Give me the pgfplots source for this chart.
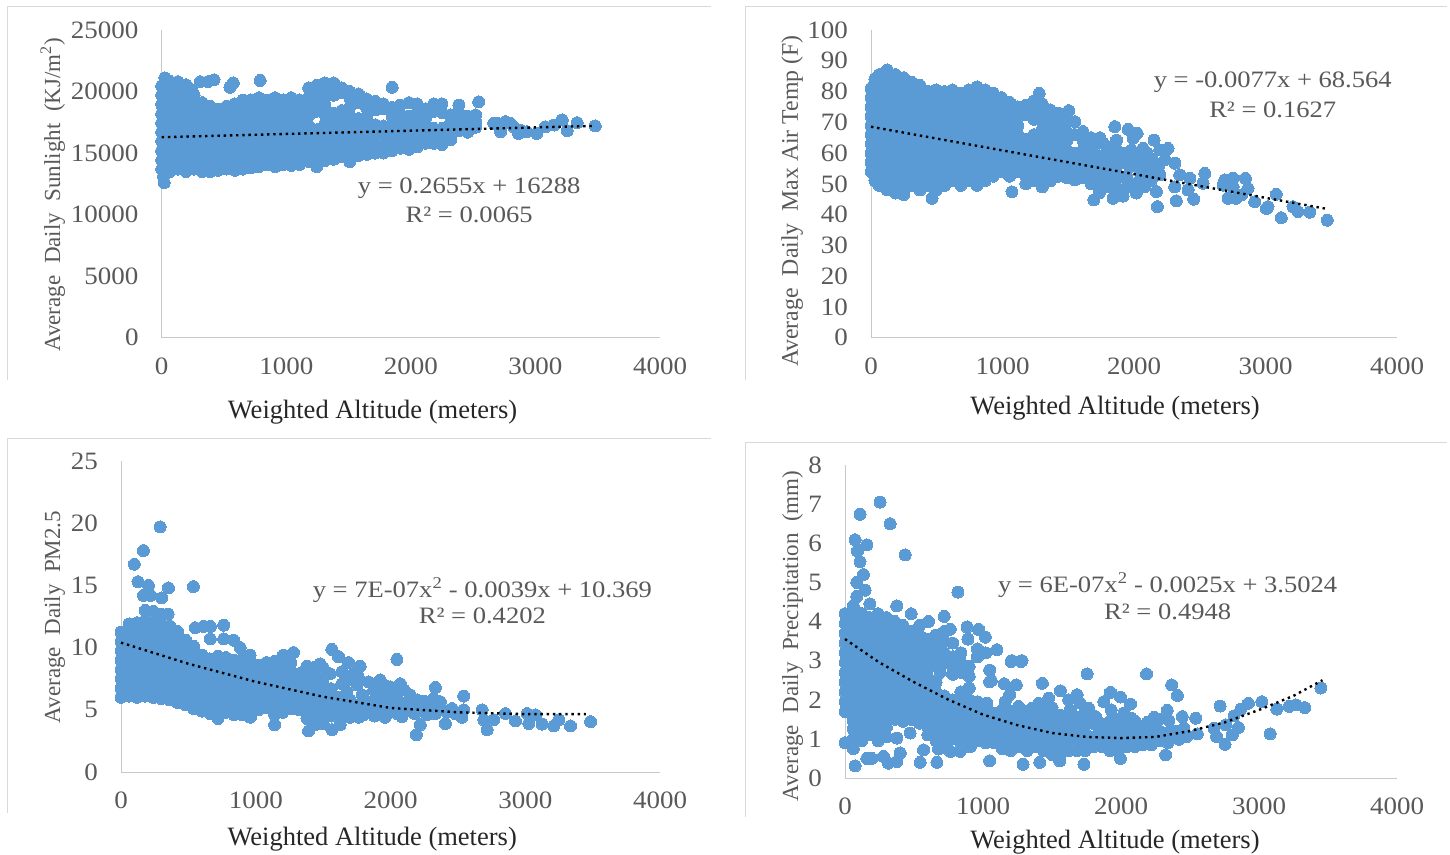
\documentclass[border=0pt]{standalone}
\usepackage{pgfplots}
\pgfplotsset{compat=1.18}
\usepackage{fontspec}
\setmainfont{Liberation Serif}
\newfontfamily\wideT[FakeStretch=1.08]{Liberation Serif}
\newfontfamily\wideE[FakeStretch=1.13]{Liberation Serif}
\definecolor{mk}{HTML}{5B9BD5}
\definecolor{tk}{HTML}{595959}
\definecolor{ax}{HTML}{C8C8C8}
\definecolor{fr}{HTML}{D9D9D9}
\pgfplotsset{
 panel/.style={
  scale only axis, anchor=south west, xmin=0, xmax=4000, ymin=0,
  axis lines=left, axis line style={draw=ax,line width=1pt,-},
  clip=false, clip mode=individual, xtick={0,1000,2000,3000,4000},
  major tick length=0pt, scaled ticks=false,
  /pgf/number format/assume math mode=true,
  /pgf/number format/1000 sep={},
  tick label style={font=\wideT\fontsize{25}{27}\selectfont, text=tk, inner sep=0pt},
  xticklabel style={anchor=north, yshift=-20pt},
  yticklabel style={anchor=east, xshift=-23pt},
  label style={inner sep=0pt},
 },
 pts/.style={color=mk, only marks, mark=*, mark size=6pt, mark options={solid,fill=mk,draw=mk,line width=0pt}},
 trend/.style={no marks, black, line width=2.4pt, dash pattern=on 2.4pt off 3.8pt},
}
\newcommand{\xl}{\fontsize{26.5}{28}\selectfont\color{black!85}}
\newcommand{\yl}{\fontsize{23}{26}\selectfont\color{tk}}
\newcommand{\eq}{\wideE\fontsize{23.5}{26}\selectfont\color{tk}}
\begin{document}
\begin{tikzpicture}[x=1pt,y=1pt]
\path[use as bounding box] (0,0) rectangle (1450,854);
\draw[fr,line width=1pt] (7.5,474) -- (7.5,847) -- (711,847);
\draw[fr,line width=1pt] (745.7,474) -- (745.7,847) -- (1447,847);
\draw[fr,line width=1pt] (7.5,41) -- (7.5,415) -- (711,415);
\draw[fr,line width=1pt] (745.7,37) -- (745.7,411.5) -- (1447,411.5);

% ---------- Sunlight
\begin{axis}[panel, at={(161.7pt,516.3pt)}, width=498.3pt, height=307.7pt, ymax=25000,
 ytick={0,5000,10000,15000,20000,25000},
 xlabel={\xl Weighted Altitude (meters)},
 xlabel style={at={(axis description cs:0.423,-0.261)},anchor=base},
 ylabel={\yl Average\ \ Daily\ \ Sunlight\ \ (KJ/m\textsuperscript{2})},
 ylabel style={at={(axis description cs:-0.204,0.464)},anchor=base}]
\addplot[pts] coordinates {
(0,13700)(0,14450)(0,15200)(0,15950)(0,16700)(0,17450)(0,18200)(0,18950)(0,19700)(0,20450)(20,12600)(15,13100)(25,21100)
(65,13500)(65,14075)(65,14825)(65,15575)(65,16325)(65,17075)(65,17825)(65,18575)(65,19325)(65,20075)(65,20825)
(130,13700)(130,14450)(130,15200)(130,15950)(130,16700)(130,17450)(130,18200)(130,18950)(130,19700)(130,20450)(130,20800)
(195,13500)(195,14075)(195,14825)(195,15575)(195,16325)(195,17075)(195,17825)(195,18575)(195,19325)(195,20075)(195,20550)
(260,13700)(260,14450)(260,15200)(260,15950)(260,16700)(260,17450)(260,18200)(260,18950)(260,19700)(240,20150)
(325,13500)(325,14075)(325,14825)(325,15575)(325,16325)(325,17075)(325,17825)(325,18575)(325,19100)
(390,13500)(390,14450)(390,15200)(390,15950)(390,16700)(390,17450)(390,18200)(390,18800)
(455,13600)(455,14075)(455,14825)(455,15575)(455,16325)(455,17075)(455,17825)(455,18575)
(520,13700)(520,14450)(520,15200)(520,15950)(520,16700)(520,17450)(520,18200)(520,18800)
(585,13600)(585,14075)(585,14825)(585,15575)(585,16325)(585,17075)(585,17825)(585,18575)(585,19000)
(650,13700)(650,14450)(650,15200)(650,15950)(650,16700)(650,17450)(650,18200)(650,18950)(650,19300)
(715,13800)(715,14075)(715,14825)(715,15575)(715,16325)(715,17075)(715,17825)(715,18575)(715,19325)
(780,13900)(780,14450)(780,15200)(780,15950)(780,16700)(780,17450)(780,18200)(780,18950)(780,19500)
(845,14075)(845,14825)(845,15575)(845,16325)(845,17075)(845,17825)(845,18575)(845,19300)
(910,13900)(910,14450)(910,15200)(910,15950)(910,16700)(910,17450)(910,18200)(910,18950)(910,19500)
(975,14075)(975,14825)(975,15575)(975,16325)(975,17075)(975,17825)(975,18575)(975,19325)
(1040,14000)(1040,14450)(1040,15200)(1040,15950)(1040,16700)(1040,17450)(1040,18200)(1040,18950)(1040,19500)
(1105,14075)(1105,14825)(1105,15575)(1105,16325)(1105,17075)(1105,17825)(1105,18575)(1105,19325)
(1180,14300)(1180,15050)(1180,15800)(1180,16550)(1180,17200)(1180,18050)(1180,18800)(1180,19550)(1180,20300)
(1245,13900)(1245,14650)(1245,15400)(1245,16150)(1245,16900)(1245,18400)(1245,19150)(1245,19900)(1245,20500)
(1310,14400)(1310,15150)(1310,15900)(1310,16650)(1310,17400)(1310,18150)(1310,18900)(1310,19650)(1310,20400)(1310,20700)
(1380,14500)(1380,15250)(1380,16000)(1380,16750)(1380,17500)(1380,18250)(1380,19700)(1380,20300)(1380,20700)
(1445,14700)(1445,15450)(1445,16200)(1445,16950)(1445,17700)(1445,18450)(1445,19900)(1445,20300)
(1510,14300)(1510,15000)(1510,15750)(1510,16500)(1510,17250)(1510,18000)(1510,18750)(1510,19500)(1510,20000)
(1580,14800)(1580,15550)(1580,16300)(1580,17050)(1580,17800)(1580,19100)(1580,19800)
(1645,14900)(1645,15650)(1645,16400)(1645,17150)(1645,17900)(1645,18650)(1645,19400)
(1715,15000)(1715,15700)(1715,16700)(1715,17300)(1715,18500)(1715,19200)
(1780,15000)(1780,15600)(1780,16500)(1780,17200)(1780,18600)(1780,19000)
(1850,15200)(1850,15900)(1850,16600)(1850,17300)(1850,18000)(1850,18700)(1850,20340)
(1915,15400)(1915,16100)(1915,16800)(1915,17500)(1915,18200)(1915,18900)
(1985,15300)(1985,16000)(1985,16700)(1985,17400)(1985,18000)(1985,19100)
(2050,15500)(2050,16200)(2050,16900)(2050,17600)(2050,18300)(2050,19000)
(2120,15800)(2120,16500)(2120,17200)(2120,17900)(2120,18600)
(2185,15800)(2185,16400)(2185,17000)(2185,18400)(2185,19000)
(2250,15700)(2250,16500)(2250,17000)(2250,18300)(2250,19000)
(2320,16100)(2320,16900)(2320,17500)(2320,18100)
(2385,16800)(2385,17500)(2385,18300)(2385,18900)
(2455,16700)(2455,17200)(2455,18000)
(2520,17100)(2520,17500)(2520,18100)(2545,19170)
(2665,17410)(2690,17410)(2760,17550)(2800,17410)(2825,17140)(2880,16870)(2720,16740)(2865,16600)(2930,16740)(3010,16600)(3080,17140)(3150,17280)(3215,17690)(3255,16820)(3335,17470)(3480,17200)
(310,20800)(370,20800)(420,20950)(548,20350)(575,20700)(790,20900)
};
\addplot[trend] coordinates {(0,16288)(3480,17212)};
\node[font=\eq] at (axis cs:2468,12160) {y = 0.2655x + 16288};
\node[font=\eq] at (axis cs:2468,9970) {R² = 0.0065};
\end{axis}

% ---------- Max air temp
\begin{axis}[panel, at={(871pt,516.3pt)}, width=526pt, height=307.7pt, ymax=100,
 ytick={0,10,20,30,40,50,60,70,80,90,100},
 xlabel={\xl Weighted Altitude (meters)},
 xlabel style={at={(axis description cs:0.464,-0.248)},anchor=base},
 ylabel={\fontsize{23.8}{26}\selectfont\color{tk} Average\ \ Daily\ \ Max Air Temp (F)},
 ylabel style={at={(axis description cs:-0.139,0.444)},anchor=base}]
\addplot[pts] coordinates {
(0,54)(0,57)(0,60)(0,63)(0,66)(0,69)(0,72)(0,75)(0,78)(0,81)(30,84)(30,51)
(62,49.5)(62,52.5)(62,55.5)(62,58.5)(62,61.5)(62,64.5)(62,67.5)(62,70.5)(62,73.5)(62,76.5)(62,79.5)(62,82.5)(62,85.5)
(124,48)(124,51)(124,54)(124,57)(124,60)(124,63)(124,66)(124,69)(124,72)(124,75)(124,78)(124,81)(124,84)(124,87)
(186,47)(186,49.5)(186,52.5)(186,55.5)(186,58.5)(186,61.5)(186,64.5)(186,67.5)(186,70.5)(186,73.5)(186,76.5)(186,79.5)(186,82.5)(186,85.5)
(248,46.5)(248,48)(248,51)(248,54)(248,57)(248,60)(248,63)(248,66)(248,69)(248,72)(248,75)(248,78)(248,81)(248,84.5)
(310,49.5)(310,52.5)(310,55.5)(310,58.5)(310,61.5)(310,64.5)(310,67.5)(310,70.5)(310,73.5)(310,76.5)(310,79.5)(310,83)
(372,48)(372,51)(372,54)(372,57)(372,60)(372,63)(372,66)(372,69)(372,72)(372,75)(372,78)(372,82)
(434,49.5)(434,52.5)(434,55.5)(434,58.5)(434,61.5)(434,64.5)(434,67.5)(434,70.5)(434,73.5)(434,76.5)(434,80)(464,45.3)
(496,48)(496,51)(496,54)(496,57)(496,60)(496,63)(496,66)(496,69)(496,72)(496,75)(496,78)(496,80.5)
(558,49.5)(558,52.5)(558,55.5)(558,58.5)(558,61.5)(558,64.5)(558,67.5)(558,70.5)(558,73.5)(558,76.5)(558,80)
(620,51)(620,54)(620,57)(620,60)(620,63)(620,66)(620,69)(620,72)(620,75)(620,78)(620,80.5)
(682,49.5)(682,52.5)(682,55.5)(682,58.5)(682,61.5)(682,64.5)(682,67.5)(682,70.5)(682,73.5)(682,76.5)(682,79.5)
(744,51)(744,54)(744,57)(744,60)(744,63)(744,66)(744,69)(744,72)(744,75)(744,78)(744,80.5)
(806,49.5)(806,52.5)(806,55.5)(806,58.5)(806,61.5)(806,64.5)(806,67.5)(806,70.5)(806,73.5)(806,76.5)(806,79.5)(806,81.5)
(868,51)(868,54)(868,57)(868,60)(868,63)(868,66)(868,69)(868,72)(868,75)(868,78)(868,80.5)
(930,52.5)(930,55.5)(930,58.5)(930,61.5)(930,64.5)(930,67.5)(930,70.5)(930,73.5)(930,76.5)(930,79.5)
(992,54)(992,57)(992,60)(992,63)(992,66)(992,69)(992,72)(992,75)(992,78)
(1054,52.5)(1054,55.5)(1054,58.5)(1054,61.5)(1054,64.5)(1054,67.5)(1054,70.5)(1054,73.5)(1054,76.5)(1072,47.4)
(1116,54)(1116,57)(1116,60)(1116,63)(1116,66)(1116,69)(1116,72)(1116,75)
(1178,50)(1178,52.5)(1178,55.5)(1178,58.5)(1178,61.5)(1178,64.5)(1178,72.5)(1178,75.5)
(1240,51)(1240,54)(1240,57)(1240,60)(1240,63)(1240,66)(1240,71)(1240,74)(1240,77)
(1302,49)(1302,52.5)(1302,55.5)(1302,58.5)(1302,61.5)(1302,64.5)(1302,67.5)(1302,70.5)(1302,73.5)(1302,76)(1279,79.4)
(1364,51)(1364,54)(1364,57)(1364,60)(1364,63)(1364,66)(1364,69)(1364,72)(1364,74)
(1426,52.5)(1426,55.5)(1426,58.5)(1426,61.5)(1426,64.5)(1426,67.5)(1426,70)(1426,73)(1504,73.8)
(1488,52)(1488,55)(1488,58)(1488,61)(1488,64)(1488,67)(1488,70.2)
(1550,51.3)(1550,54)(1550,57)(1550,60)(1550,66)(1550,70.2)
(1612,52)(1612,55)(1612,58)(1612,61)(1612,64)(1612,67)
(1674,50)(1674,53)(1674,56)(1674,59)(1674,62)(1674,65)
(1736,47)(1736,50)(1736,53)(1736,56)(1736,59)(1765,63.2)(1702,62.6)(1694,44.8)(1740,65)
(1798,49)(1798,52)(1798,55)(1798,58)(1798,61)(1841,45.3)
(1854,68.6)(1955,67.7)(2024,66.4)(1867,64.2)(1993,64.8)(2153,64.2)(2259,61.5)(2196,61)(2234,57.8)(2310,56.7)(2069,61.5)(2082,57.8)(1993,57.8)(1867,58.8)
(2120,54)(2196,52.9)(2348,52.9)(2424,51.8)(2538,53.4)(2525,50.2)(2310,49)(2411,48)(2170,47.5)(2018,47)(1917,46)(1943,49)(2031,50.2)(1943,52.3)(2057,52.3)(1968,55.6)(1892,52.3)(1860,55)(1920,60)(2030,60)(2100,60)(2130,51)(2080,49)(1860,49)
(1860,61.5)(1920,57)(1980,61)(2040,55)(2100,54)(1860,52)(2000,50)(2140,58)(2190,56)(1800,62)
(2178,42.6)(2322,44.5)(2454,45)
(2690,51.3)(2753,51.8)(2847,51.8)(2677,49.6)(2753,49)(2867,48.5)(2715,45.3)(2778,45.3)(2817,46.4)(2918,44.2)(3082,46.6)(3006,42)(3209,42.6)(3247,41)(3336,40.8)(3120,39)(3470,38.2)(3019,42.6)
};
\addplot[trend] coordinates {(0,68.56)(3480,41.76)};
\node[font=\eq] at (axis cs:3055,83.1) {y = -0.0077x + 68.564};
\node[font=\eq] at (axis cs:3055,74) {R² = 0.1627};
\end{axis}

% ---------- PM2.5
\begin{axis}[panel, at={(121pt,82pt)}, width=539pt, height=311pt, ymax=25,
 ytick={0,5,10,15,20,25},
 xlabel={\xl Weighted Altitude (meters)},
 xlabel style={at={(axis description cs:0.466,-0.235)},anchor=base},
 ylabel={\yl Average\ \ Daily\ \ PM2.5},
 ylabel style={at={(axis description cs:-0.113,0.498)},anchor=base}]
\addplot[pts] coordinates {
(0,6)(0,6.75)(0,7.5)(0,8.25)(0,9)(0,9.75)(0,10.5)(0,11.25)
(60,6.1)(60,6.9)(60,7.6)(60,8.4)(60,9.1)(60,9.9)(60,10.6)(60,11.4)(60,11.9)
(120,6)(120,6.75)(120,7.5)(120,8.25)(120,9)(120,9.75)(120,10.5)(120,11.25)(120,12)
(180,6.1)(180,6.9)(180,7.6)(180,8.4)(180,9.1)(180,9.9)(180,10.6)(180,11.4)(180,12.2)(180,13)
(240,6)(240,6.75)(240,7.5)(240,8.25)(240,9)(240,9.75)(240,10.5)(240,11.25)(240,12)(240,12.9)
(300,5.9)(300,6.6)(300,7.4)(300,8.1)(300,8.9)(300,9.6)(300,10.4)(300,11.1)(300,11.9)(300,12.7)
(360,5.8)(360,6.5)(360,7.25)(360,8)(360,8.75)(360,9.5)(360,10.25)(360,11)(360,11.75)(350,12.7)
(420,5.6)(420,6.4)(420,7.1)(420,7.9)(420,8.6)(420,9.4)(420,10.1)(420,10.9)(420,11.3)
(480,5.4)(480,6.1)(480,6.9)(480,7.6)(480,8.4)(480,9.1)(480,9.9)(480,10.6)
(540,5.1)(540,5.8)(540,6.6)(540,7.3)(540,8.1)(540,8.8)(540,9.6)(540,10.1)
(600,4.9)(600,5.6)(600,6.4)(600,7.1)(600,7.9)(600,8.6)(600,9.4)
(660,4.7)(660,5.4)(660,6.1)(660,6.9)(660,7.6)(660,8.4)(660,9.1)
(720,4.3)(720,5)(720,5.75)(720,6.5)(720,7.25)(720,8)(720,8.75)(720,9.3)
(780,4.8)(780,5.5)(780,6.2)(780,7)(780,7.7)(780,8.5)(780,9.2)
(840,4.6)(840,5.3)(840,6)(840,6.8)(840,7.5)(840,8.3)(840,9)
(900,4.6)(900,5.3)(900,6)(900,6.8)(900,7.5)(900,8.3)(900,9.1)
(960,4.4)(960,5.1)(960,5.9)(960,6.6)(960,7.4)(960,8.1)(960,8.9)
(1020,5)(1020,5.7)(1020,6.4)(1020,7.2)(1020,7.9)(1020,8.6)
(1080,5.2)(1080,5.9)(1080,6.6)(1080,7.4)(1080,8.1)(1080,8.8)
(1140,3.8)(1140,4.6)(1140,5.3)(1140,6)(1140,6.8)(1140,7.5)(1140,8.3)(1140,8.9)
(1200,4.8)(1200,5.5)(1200,6.3)(1200,7)(1200,7.8)(1200,8.6)(1206,9.4)
(1260,5.1)(1260,5.8)(1260,6.6)(1260,7.3)(1260,8.1)(1260,8.8)(1280,9.6)
(1320,5)(1320,5.7)(1320,6.5)(1320,7.2)(1320,7.9)
(1380,4.3)(1380,5.1)(1380,5.9)(1380,6.6)(1380,7.4)(1380,8.2)(1392,3.3)(1379,8.5)
(1440,3.8)(1440,4.7)(1440,5.4)(1440,6.2)(1440,6.9)(1440,7.7)(1478,8.7)(1440,8.4)
(1500,4.5)(1500,5.3)(1500,6)(1500,6.8)(1500,7.5)(1500,8.4)(1500,3.9)
(1565,3.4)(1627,3.8)(1560,4.5)(1560,5.2)(1560,6)(1560,6.7)(1552,7.9)(1565,9.85)(1614,9.27)
(1620,5.1)(1620,6)(1640,7.1)(1639,8.06)(1700,5)(1760,5.2)(1640,5.6)(1676,6.45)(1689,8.8)(1775,8.5)(1726,7.9)(1751,7)(1763,4.4)(1700,5.8)
(1837,7.25)(1924,7.4)(1875,6.6)(1998,6.85)(2073,7.1)(2048,9.05)(1949,6.3)(2048,6.2)(2147,6.2)(2197,5.8)(1800,5.8)(1899,5.8)(1998,5.5)(2097,5.5)(1820,5.2)(1880,5)(1940,5)(2020,4.9)(2140,4.9)(2260,5.4)(2333,5.2)(2380,5.1)(2420,4.8)(2480,4.7)(2530,4.4)
(1700,7.4)(1760,7.7)(1790,6.2)(1850,5.6)(1950,5.7)(2050,5.8)(2150,5.6)(2100,6.6)(2200,5.2)(1950,7)(2000,6.3)(1900,6.1)(2250,5.7)(2100,5)(2180,4.7)(2270,4.6)(2050,4.7)(1880,4.5)(1800,4.6)(1700,4.4)(1640,4.4)
(2333,6.8)(2543,6.1)(2320,5.9)(2370,5.65)(2270,5.1)(2457,5.1)(2543,5)(2333,4.7)(2407,3.9)(2221,3.8)(2192,3)(2085,4.45)(1961,4.4)
(2680,5)(2692,4.2)(2717,3.4)(2766,4.2)(2853,4.7)(2927,4.1)(3014,4.7)(3076,4.6)(3026,3.9)(3125,3.85)(3249,4.2)(3212,3.7)(3336,3.7)(3485,4.05)
(290,19.7)(166,17.8)(99,16.7)(126,15.3)(203,15)(352,14.8)(537,14.9)(302,14)(166,14.2)(220,14.2)
(551,11.6)(613,11.7)(663,11.7)(762,11.8)(663,10.7)(762,10.7)(836,10.6)(885,10)(958,9.4)
};
\addplot[trend] coordinates {(0,10.4)(500,8.7)(1000,7.25)(1500,6.05)(2000,5.15)(2500,4.8)(3000,4.65)(3450,4.65)};
\node[font=\eq] at (axis cs:2682,14.63) {y = 7E-07x\textsuperscript{2} - 0.0039x + 10.369};
\node[font=\eq] at (axis cs:2682,12.54) {R² = 0.4202};
\end{axis}

% ---------- Precipitation
\begin{axis}[panel, at={(845pt,76pt)}, width=552pt, height=313pt, ymax=8,
 ytick={0,1,2,3,4,5,6,7,8},
 xlabel={\xl Weighted Altitude (meters)},
 xlabel style={at={(axis description cs:0.489,-0.224)},anchor=base},
 ylabel={\yl Average\ \ Daily\ \ Precipitation\ \ (mm)},
 ylabel style={at={(axis description cs:-0.085,0.454)},anchor=base}]
\addplot[pts] coordinates {
(0,0.9)(0,1.7)(0,1.95)(0,2.2)(0,2.45)(0,2.7)(0,2.95)(0,3.2)(0,3.45)(0,3.7)(0,3.95)(0,4.2)
(60,0.75)(60,1)(60,1.25)(60,1.45)(60,1.65)(60,1.85)(60,2.1)(60,2.35)(60,2.6)(60,2.85)(60,3.1)(60,3.35)(60,3.6)(60,3.85)(60,4.1)(60,4.4)(73,0.31)
(120,0.95)(120,1.2)(120,1.45)(120,1.7)(120,1.95)(120,2.2)(120,2.45)(120,2.7)(120,2.95)(120,3.2)(120,3.45)(120,3.7)(120,3.95)(120,4.2)
(180,1.1)(180,1.35)(180,1.6)(180,1.85)(180,2.1)(180,2.35)(180,2.6)(180,2.85)(180,3.1)(180,3.35)(180,3.6)(180,3.85)(180,4.1)(180,4.45)
(240,0.95)(240,1.2)(240,1.45)(240,1.7)(240,1.95)(240,2.2)(240,2.45)(240,2.7)(240,2.95)(240,3.2)(240,3.45)(240,3.7)(240,3.95)(240,4.2)
(300,1.05)(300,1.3)(300,1.55)(300,1.85)(300,2.1)(300,2.35)(300,2.6)(300,2.85)(300,3.1)(300,3.35)(300,3.6)(300,3.85)(300,4.1)
(360,1.5)(360,1.75)(360,2)(360,2.25)(360,2.5)(360,2.75)(360,3)(360,3.25)(360,3.5)(360,3.75)(360,4)(375,4.4)
(420,1.45)(420,1.65)(420,1.9)(420,2.15)(420,2.4)(420,2.65)(420,2.9)(420,3.15)(420,3.4)(420,3.65)(420,3.9)
(480,1.5)(480,1.75)(480,2)(480,2.25)(480,2.5)(480,2.75)(480,3)(480,3.25)(480,3.5)(480,3.75)(480,4.2)
(540,1.4)(540,1.65)(540,1.9)(540,2.15)(540,2.4)(540,2.65)(540,2.9)(540,3.15)(540,3.4)(540,3.65)(540,3.9)
(600,1.1)(600,1.3)(600,1.55)(600,1.8)(600,2.05)(600,2.3)(600,2.55)(600,2.8)(600,3.05)(600,3.3)(600,3.55)(605,4)
(660,0.95)(660,1.2)(660,1.45)(660,1.7)(660,1.95)(660,2.2)(660,2.45)(660,2.9)(660,3.15)(660,3.4)(660,3.65)
(720,0.9)(720,1.1)(720,1.35)(720,1.6)(720,1.85)(720,2.1)(720,2.95)(720,3.2)(720,3.5)(720,3.75)(719,4.13)(690,2.7)
(780,1)(780,1.25)(780,1.5)(780,1.75)(780,2)(780,2.65)(780,2.85)(780,3.1)(780,3.45)(763,3.8)
(840,0.9)(840,1.15)(840,1.4)(840,1.65)(840,1.9)(840,2.2)(840,2.7)(840,2.95)(840,3.2)(884,3.86)
(900,1)(900,1.25)(900,1.5)(900,1.75)(900,2)(900,2.3)(900,2.6)(900,2.85)(891,3.55)
(960,0.95)(960,1.2)(960,1.45)(960,1.7)(960,1.95)(960,3.1)(960,3.3)(968,3.8)
(1020,0.9)(1020,1.15)(1020,1.4)(1020,1.6)(1020,1.85)(1048,2.46)(1017,3.6)(1020,3.2)(1028,1.91)
(1080,0.9)(1080,1.15)(1080,1.4)(1080,1.65)(1101,3.28)(1048,2.76)(1060,2.49)
(1140,0.75)(1140,1)(1140,1.25)(1140,1.5)(1140,1.75)(1203,2.98)(1275,2.98)(1154,2.41)(1241,2.38)(1430,2.42)
(1200,0.7)(1200,0.95)(1200,1.2)(1200,1.45)(1200,1.7)(1193,2.13)(1161,1.95)(1258,1.83)
(1260,0.8)(1260,1.05)(1260,1.3)(1260,1.55)(1320,1.7)
(1320,0.7)(1320,0.95)(1320,1.2)(1320,1.45)
(1380,0.8)(1380,1.05)(1380,1.3)(1380,1.6)(1403,1.91)(1355,1.78)(1452,1.78)
(1440,0.7)(1440,0.95)(1440,1.2)(1440,1.5)(1476,2.04)(1500,1.8)
(1500,0.6)(1500,0.85)(1500,1.1)(1500,1.35)(1500,1.55)(1561,2.23)
(1560,0.6)(1560,0.85)(1560,1.1)(1560,1.35)(1560,1.6)
(1620,0.7)(1620,0.95)(1620,1.2)(1620,1.45)(1621,2)(1633,1.74)(1682,2.13)(1706,1.91)(1767,1.78)(1815,1.57)(1851,1.4)(1730,1.61)(1791,1.4)(1670,1.57)(1839,1.19)
(1680,0.7)(1680,0.95)(1680,1.2)(1680,1.35)(1754,2.66)
(1740,0.7)(1740,0.95)(1740,1.15)(1740,1.35)
(1800,0.8)(1800,1.05)(1860,0.8)(1860,1.05)
(1920,0.7)(1920,0.95)(1920,1.2)(1920,1.45)(1980,0.7)(1980,0.9)(1980,1.15)(1980,1.4)
(2040,0.8)(2040,1.05)(2040,1.25)(2100,0.8)(2100,1.05)(2100,1.25)(2100,1.45)
(2160,0.85)(2160,1.1)(2160,1.3)(2220,0.85)(2220,1.1)(2220,1.3)(2240,1.55)
(2280,0.95)(2280,1.2)(2340,0.9)(2340,1.15)(2400,1.1)(2400,1.2)
(1924,2.19)(1996,2.07)(1875,1.95)(2069,1.89)(1929,1.74)(1948,1.53)(2021,1.66)(2045,1.44)(2074,1.53)(2190,1.42)(2275,1.5)(2335,1.73)(2347,1.47)(2444,1.57)(2541,1.53)(2456,1.27)(2553,1.13)(2476,1.06)(2420,0.99)(2323,0.59)(2185,2.66)(2367,2.38)(2408,2.11)
(2718,1.84)(2819,1.59)(2868,1.76)(2923,1.91)(3020,1.95)(3129,1.76)(3218,1.83)(3267,1.87)(3332,1.8)(3448,2.3)(3081,1.13)(2851,1.29)(2759,1.36)(2674,1.27)(2807,1.1)(2693,1.06)(2754,0.86)
(1048,0.44)(1290,0.35)(1411,0.4)(1556,0.44)(1731,0.35)(1996,0.5)
(158,0.5)(194,0.5)(279,0.55)(315,0.38)(400,0.64)(375,0.42)(545,0.4)(666,0.4)(569,0.72)(678,0.74)(763,0.68)(835,0.68)(908,0.8)(375,1.02)(472,1.15)
(254,7.05)(109,6.74)(327,6.5)(73,6.09)(158,5.96)(90,5.8)(109,5.53)(133,5.2)(436,5.7)(85,5)(146,4.8)(85,4.64)(818,4.75)(1210,3)(1283,3)
};
\addplot[trend] coordinates {(0,3.55)(250,2.95)(500,2.45)(750,2)(1000,1.62)(1250,1.35)(1500,1.15)(1750,1.05)(2000,1.02)(2250,1.05)(2500,1.2)(2750,1.42)(3000,1.74)(3250,2.1)(3460,2.5)};
\node[font=\eq] at (axis cs:2338,4.94) {y = 6E-07x\textsuperscript{2} - 0.0025x + 3.5024};
\node[font=\eq] at (axis cs:2338,4.25) {R² = 0.4948};
\end{axis}
\end{tikzpicture}
\end{document}
